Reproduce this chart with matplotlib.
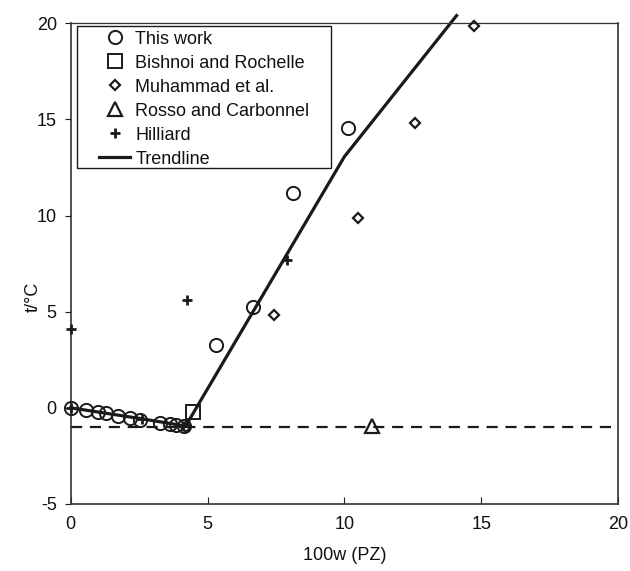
import matplotlib
matplotlib.use("Agg")
import matplotlib.pyplot as plt
from matplotlib.patches import Rectangle

plt.rcParams['font.family'] = ['Liberation Sans', 'DejaVu Sans']
plt.rcParams['axes.unicode_minus'] = False

# Data
this_work_x = [0.0, 0.56, 1.0, 1.29, 1.73, 2.17, 2.53, 3.26, 3.63, 3.85, 4.14, 5.31, 6.66, 8.12, 10.13]
this_work_y = [0.0, -0.13, -0.24, -0.29, -0.45, -0.55, -0.65, -0.80, -0.85, -0.90, -0.96, 3.28, 5.25, 11.15, 14.57]

bishnoi_x = [4.47]
bishnoi_y = [-0.2]

muhammad_x = [4.2, 7.43, 10.5, 12.58, 14.73]
muhammad_y = [-1.0, 4.84, 9.85, 14.83, 19.85]

rosso_x = [11.0]
rosso_y = [-0.95]

hilliard_x = [0.0, 2.6, 4.1, 0.0, 4.25, 7.9]
hilliard_y = [0.0, -0.6, -0.95, 4.1, 5.6, 7.7]

trend_x = [0.0, 2.5, 4.2, 10.0, 14.1]
trend_y = [0.0, -0.55, -0.95, 13.06, 20.4]

eutectic_y = -1.0

xticks = [0, 5, 10, 15, 20]
yticks = [-5, 0, 5, 10, 15, 20]

INK = '#1a1a1a'
TXT = '#111111'
FS = 13

fig = plt.figure(figsize=(6.3, 5.71), dpi=100)
ax = fig.add_axes([0.1122, 0.1175, 0.8688, 0.8417])

ax.axhline(eutectic_y, color=INK, lw=1.6, ls=(0, (5, 3.5)), zorder=1)

ax.plot(this_work_x, this_work_y, ls='none', marker='o', ms=9.5, mfc='none',
        mec=INK, mew=1.4, label='This work', zorder=3, clip_on=False)
ax.plot(bishnoi_x, bishnoi_y, ls='none', marker='s', ms=10, mfc='none',
        mec=INK, mew=1.4, label='Bishnoi and Rochelle', zorder=3, clip_on=False)
ax.plot(muhammad_x, muhammad_y, ls='none', marker='D', ms=5.5, mfc='none',
        mec=INK, mew=1.6, label='Muhammad et al.', zorder=3, clip_on=False)
ax.plot(rosso_x, rosso_y, ls='none', marker='^', ms=10, mfc='none',
        mec=INK, mew=1.6, label='Rosso and Carbonnel', zorder=3, clip_on=False)
ax.plot(hilliard_x, hilliard_y, ls='none', marker='+', ms=7.5,
        mec=INK, mew=2.0, label='Hilliard', zorder=3, clip_on=False)
ax.plot(trend_x, trend_y, color=INK, lw=2.3, label='Trendline',
        zorder=2, clip_on=False)

ax.set_xlim(0, 20)
ax.set_ylim(-5, 20)
ax.set_xticks(xticks)
ax.set_yticks(yticks)
ax.tick_params(axis='x', direction='in', length=5, pad=9, labelsize=FS,
               colors=INK, labelcolor=TXT)
ax.tick_params(axis='y', direction='out', length=4, pad=6, labelsize=FS,
               colors=INK, labelcolor=TXT)

for s in ax.spines.values():
    s.set_color('#333333')
    s.set_linewidth(1.2)
ax.spines['top'].set_linewidth(0.9)

ax.set_xlabel('100w (PZ)', fontsize=FS, color=TXT)
ax.set_ylabel('t/°C', fontsize=FS, color=TXT)
ax.xaxis.set_label_coords(0.5, -0.09)
ax.yaxis.set_label_coords(-0.053, 0.43)

# Legend frame drawn separately (Excel-style wide left padding)
ax.add_patch(Rectangle((0.0115, 0.6989), 0.4641, 0.2955, transform=ax.transAxes,
                       fill=True, facecolor='white', edgecolor=INK, lw=1.0,
                       zorder=4))
leg = ax.legend(loc='upper left', bbox_to_anchor=(0.0517, 0.985), fontsize=FS,
                frameon=False, borderpad=0.0, labelspacing=0.39,
                handlelength=1.72, handletextpad=0.3, borderaxespad=0.0)
leg.set_zorder(5)
for t in leg.get_texts():
    t.set_color(TXT)

fig.savefig('out.png', dpi=100)
